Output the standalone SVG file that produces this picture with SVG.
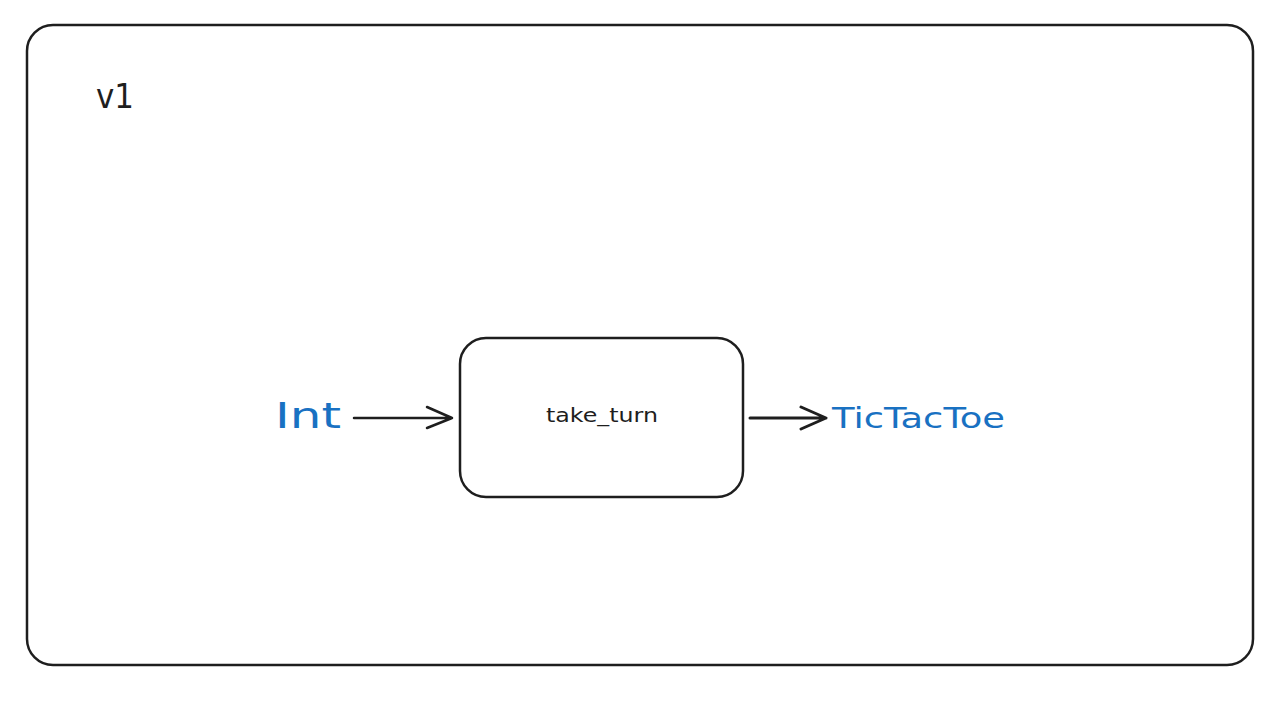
<svg xmlns="http://www.w3.org/2000/svg" width="1280" height="721" viewBox="0 0 1280 721">
<style>
.frame{fill:#fff;stroke:#1e1e1e;stroke-width:2.5}
.node{fill:#fff;stroke:#1e1e1e;stroke-width:2.5}
.lbl{font-family:"DejaVu Sans",sans-serif;fill:#1e1e1e}
.type{font-family:"DejaVu Sans",sans-serif;fill:#1971c2}
.conn{fill:none;stroke:#1e1e1e;stroke-width:2.5;stroke-linecap:round;stroke-linejoin:round}
</style>
<rect width="1280" height="721" fill="#fff"/>
<g id="frame">
<rect class="frame" x="27" y="25" width="1226" height="640" rx="26"/>
<text class="lbl" x="96" y="108" font-size="33" textLength="38" lengthAdjust="spacingAndGlyphs">v1</text>
</g>
<g id="input">
<text class="type" x="275" y="428" font-size="36" textLength="66" lengthAdjust="spacingAndGlyphs">Int</text>
</g>
<g id="take_turn">
<rect class="node" x="460" y="338" width="283" height="159" rx="26"/>
<text class="lbl" x="602" y="422" font-size="19" text-anchor="middle" textLength="112" lengthAdjust="spacingAndGlyphs">take_turn</text>
</g>
<g id="output">
<text class="type" x="832" y="428" font-size="29" textLength="173" lengthAdjust="spacingAndGlyphs">TicTacToe</text>
</g>
<g id="connectors">
<path class="conn" d="M354 418 L452 418 M427 407 L452 418 L427 428"/>
<path class="conn" d="M750 418 L826 418 M801 407 L826 418 L801 429" style="stroke-width:3"/>
</g>
</svg>
